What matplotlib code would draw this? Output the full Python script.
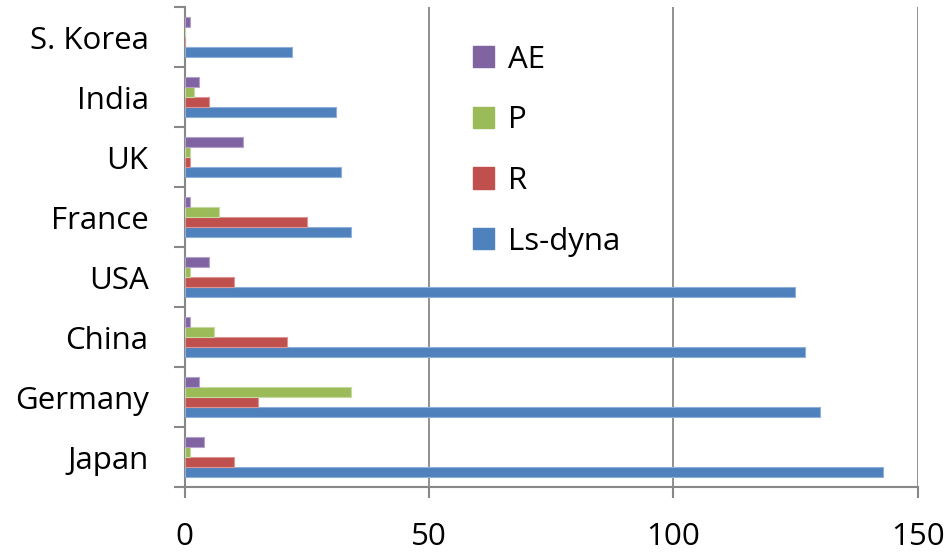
import numpy as np
import matplotlib.pyplot as plt
from matplotlib.patches import Patch

countries = ["Japan", "Germany", "China", "USA", "France", "UK", "India", "S. Korea"]
ls_dyna = [143, 130, 127, 125, 34, 32, 31, 22]
r_vals = [10, 15, 21, 10, 25, 1, 5, 0]
p_vals = [1, 34, 6, 1, 7, 1, 2, 0]
ae_vals = [4, 3, 1, 5, 1, 12, 3, 1]

series = [("Ls-dyna", ls_dyna, "#4F81BD", "#8FB0DA"),
          ("R", r_vals, "#C0504D", "#DB9694"),
          ("P", p_vals, "#9BBB59", "#C6D9A0"),
          ("AE", ae_vals, "#8064A2", "#B3A2C7")]

plt.rcParams['font.family'] = ['Open Sans', 'DejaVu Sans']

fig = plt.figure(figsize=(9.46, 5.53), dpi=100)
ax = fig.add_axes([0.1952, 0.1193, 0.7748, 0.868])

y = np.arange(len(countries))
h = 1 / 6
for i, (name, vals, col, edge) in enumerate(series):
    ax.barh(y + (i - 1.5) * h, vals, height=h, color=col, edgecolor=edge,
            linewidth=0.8, label=name, zorder=3)

ax.set_xlim(0, 150)
ax.set_ylim(-0.5, len(countries) - 0.5)
ax.set_xticks([0, 50, 100, 150])
ax.set_yticks(y)
ax.set_yticklabels(countries)
ax.set_yticks(np.arange(len(countries) + 1) - 0.5, minor=True)

ax.grid(axis='x', color='#888888', linewidth=1.3, zorder=0)
for s in ['top', 'right']:
    ax.spines[s].set_visible(False)
for s in ['left', 'bottom']:
    ax.spines[s].set_color('#888888')
    ax.spines[s].set_linewidth(1.5)

ax.tick_params(axis='y', which='major', length=0, pad=26, labelsize=22.5)
ax.tick_params(axis='y', which='minor', length=8, width=1.5, color='#888888')
ax.tick_params(axis='x', which='major', length=8, width=1.5, color='#888888',
               pad=17, labelsize=22.5)

handles = [Patch(facecolor=c, edgecolor=c) for _, _, c, _ in series][::-1]
labels = [n for n, _, _, _ in series][::-1]
fig.legend(handles, labels, loc='upper left', bbox_to_anchor=(0.47, 0.97),
           frameon=False, fontsize=22.5, handlelength=0.68, handleheight=0.68,
           handletextpad=0.45, labelspacing=0.98)

fig.savefig("out.png", dpi=100)
